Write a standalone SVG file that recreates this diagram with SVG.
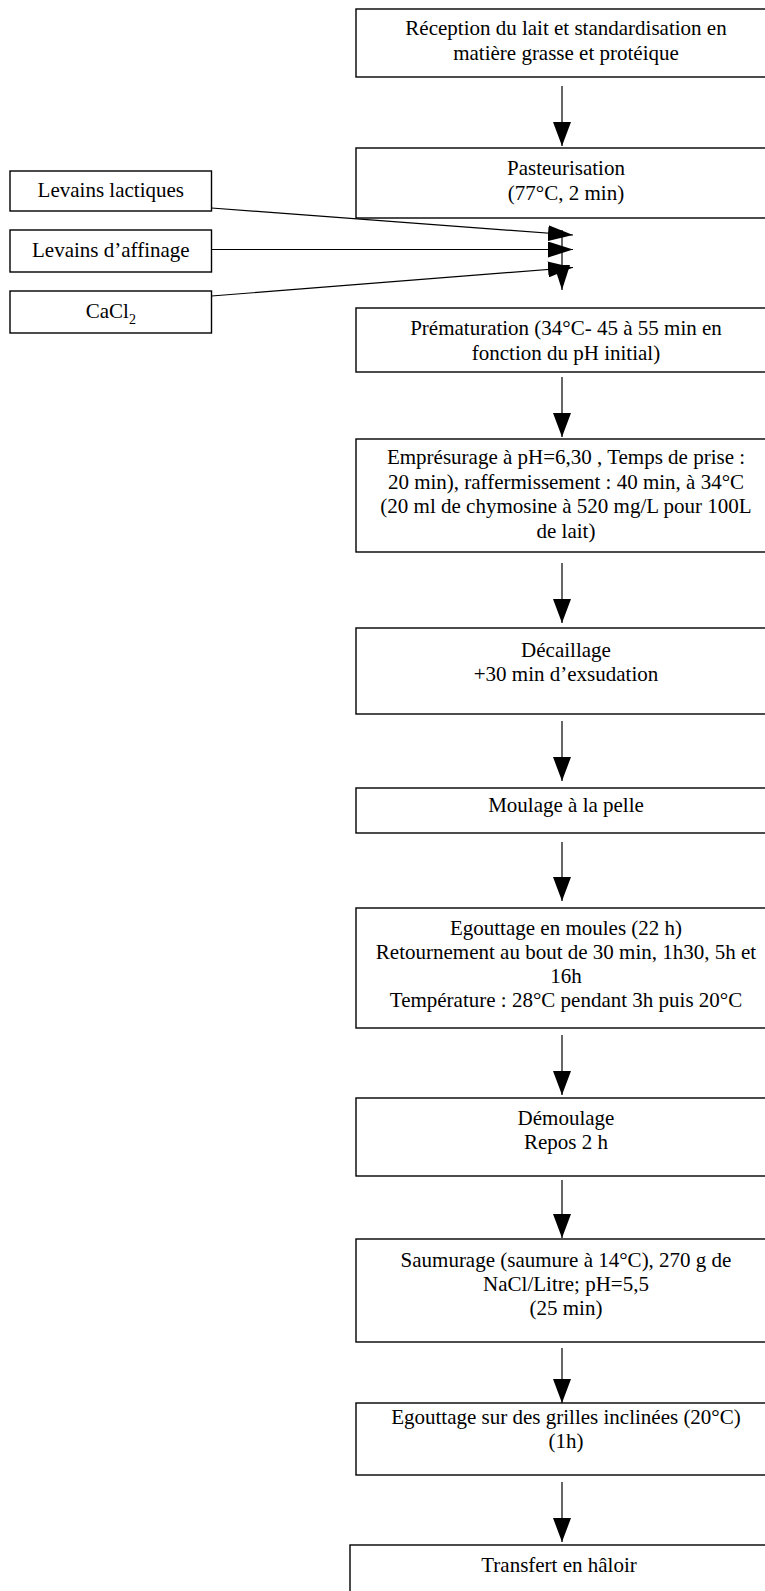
<svg xmlns="http://www.w3.org/2000/svg" width="765" height="1591" viewBox="0 0 765 1591">
<defs>
<style>
.box{fill:#fff;stroke:#000;stroke-width:1.4}
.t{font-family:"Liberation Serif","Times New Roman",serif;font-size:21px;fill:#000;text-anchor:middle}
.ln{stroke:#000;stroke-width:1.2;fill:none}
</style>
<marker id="ah" markerUnits="userSpaceOnUse" markerWidth="24" markerHeight="18" refX="24" refY="9" orient="auto">
<path d="M0,0 L24,9 L0,18 z" fill="#000"/>
</marker>
<marker id="ahs" markerUnits="userSpaceOnUse" markerWidth="25" markerHeight="16" refX="25" refY="8" orient="auto">
<path d="M0,0 L25,8 L0,16 z" fill="#000"/>
</marker>
</defs>
<rect width="765" height="1591" fill="#fff"/>

<g id="connectors">
<line class="ln" x1="562" y1="86" x2="562" y2="146" marker-end="url(#ah)"/>
<line class="ln" x1="562" y1="230" x2="562" y2="290" marker-end="url(#ahs)"/>
<line class="ln" x1="211.5" y1="208" x2="573" y2="235" marker-end="url(#ahs)"/>
<line class="ln" x1="211.5" y1="249.5" x2="573" y2="249.5" marker-end="url(#ahs)"/>
<line class="ln" x1="211.5" y1="296" x2="573" y2="267.5" marker-end="url(#ahs)"/>
<line class="ln" x1="562" y1="377" x2="562" y2="437" marker-end="url(#ah)"/>
<line class="ln" x1="562" y1="563" x2="562" y2="623" marker-end="url(#ah)"/>
<line class="ln" x1="562" y1="721" x2="562" y2="781" marker-end="url(#ah)"/>
<line class="ln" x1="562" y1="842" x2="562" y2="901" marker-end="url(#ah)"/>
<line class="ln" x1="562" y1="1035" x2="562" y2="1095" marker-end="url(#ah)"/>
<line class="ln" x1="562" y1="1180" x2="562" y2="1238" marker-end="url(#ah)"/>
<line class="ln" x1="562" y1="1348" x2="562" y2="1403" marker-end="url(#ah)"/>
<line class="ln" x1="562" y1="1482" x2="562" y2="1542" marker-end="url(#ah)"/>
</g>

<g id="n-reception">
<rect class="box" x="356" y="9" width="420" height="68"/>
<text class="t" x="566" y="35">Réception du lait et standardisation en</text>
<text class="t" x="566" y="60">matière grasse et protéique</text>
</g>

<g id="n-pasteurisation">
<rect class="box" x="356" y="148" width="420" height="70"/>
<text class="t" x="566" y="175">Pasteurisation</text>
<text class="t" x="566" y="200">(77°C, 2 min)</text>
</g>

<g id="n-levains-lactiques">
<rect class="box" x="10" y="171" width="201.5" height="40"/>
<text class="t" x="110.8" y="197">Levains lactiques</text>
</g>

<g id="n-levains-affinage">
<rect class="box" x="10" y="230" width="201.5" height="42"/>
<text class="t" x="110.8" y="257">Levains d’affinage</text>
</g>

<g id="n-cacl2">
<rect class="box" x="10" y="291" width="201.5" height="42"/>
<text class="t" x="110.8" y="318">CaCl<tspan font-size="14" dy="6">2</tspan></text>
</g>

<g id="n-prematuration">
<rect class="box" x="356" y="308" width="420" height="64"/>
<text class="t" x="566" y="335">Prématuration (34°C- 45 à 55 min en</text>
<text class="t" x="566" y="360">fonction du pH initial)</text>
</g>

<g id="n-empresurage">
<rect class="box" x="356" y="439" width="420" height="113"/>
<text class="t" x="566" y="464">Emprésurage à pH=6,30 , Temps de prise :</text>
<text class="t" x="566" y="489">20 min), raffermissement : 40 min, à 34°C</text>
<text class="t" x="566" y="513">(20 ml de chymosine à 520 mg/L pour 100L</text>
<text class="t" x="566" y="538">de lait)</text>
</g>

<g id="n-decaillage">
<rect class="box" x="356" y="628" width="420" height="86"/>
<text class="t" x="566" y="657">Décaillage</text>
<text class="t" x="566" y="681">+30 min d’exsudation</text>
</g>

<g id="n-moulage">
<rect class="box" x="356" y="788" width="420" height="45"/>
<text class="t" x="566" y="812">Moulage à la pelle</text>
</g>

<g id="n-egouttage-moules">
<rect class="box" x="356" y="908" width="420" height="120"/>
<text class="t" x="566" y="935">Egouttage en moules (22 h)</text>
<text class="t" x="566" y="959">Retournement au bout de 30 min, 1h30, 5h et</text>
<text class="t" x="566" y="983">16h</text>
<text class="t" x="566" y="1007">Température : 28°C pendant 3h puis 20°C</text>
</g>

<g id="n-demoulage">
<rect class="box" x="356" y="1098" width="420" height="78"/>
<text class="t" x="566" y="1125">Démoulage</text>
<text class="t" x="566" y="1149">Repos 2 h</text>
</g>

<g id="n-saumurage">
<rect class="box" x="356" y="1239" width="420" height="103"/>
<text class="t" x="566" y="1267">Saumurage (saumure à 14°C), 270 g de</text>
<text class="t" x="566" y="1291">NaCl/Litre; pH=5,5</text>
<text class="t" x="566" y="1315">(25 min)</text>
</g>

<g id="n-egouttage-grilles">
<rect class="box" x="356" y="1403" width="420" height="72"/>
<text class="t" x="566" y="1424">Egouttage sur des grilles inclinées (20°C)</text>
<text class="t" x="566" y="1448">(1h)</text>
</g>

<g id="n-transfert">
<rect class="box" x="350" y="1545" width="418" height="60"/>
<text class="t" x="559" y="1572">Transfert en hâloir</text>
</g>
</svg>
